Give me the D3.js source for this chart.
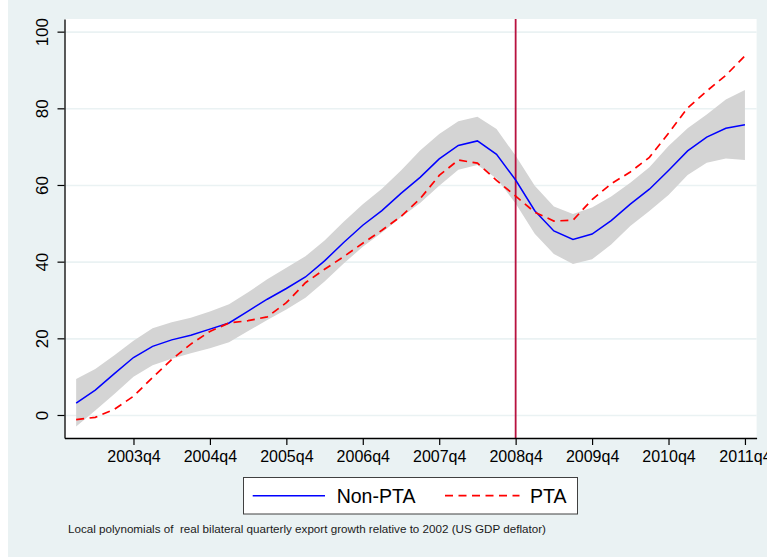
<!DOCTYPE html>
<html>
<head>
<meta charset="utf-8">
<script src="https://cdnjs.cloudflare.com/ajax/libs/d3/7.8.5/d3.min.js"></script>
<style>
	body { margin: 0; background: #ffffff; }
	svg { display: block; font-family: 'Liberation Sans', Arial, sans-serif; }
</style>
</head>
<body>
<div id="chart"></div>
<script>
const quarters = [
	'2003q1', '2003q2', '2003q3', '2003q4', '2004q1', '2004q2', '2004q3', '2004q4',
	'2005q1', '2005q2', '2005q3', '2005q4', '2006q1', '2006q2', '2006q3', '2006q4',
	'2007q1', '2007q2', '2007q3', '2007q4', '2008q1', '2008q2', '2008q3', '2008q4',
	'2009q1', '2009q2', '2009q3', '2009q4', '2010q1', '2010q2', '2010q3', '2010q4',
	'2011q1', '2011q2', '2011q3', '2011q4'
];
const nonPta = [
	3.1, 6.5, 10.8, 15.0, 17.9, 19.6, 20.8, 22.4, 24.0, 27.1, 30.2, 33.0,
	36.0, 40.2, 45.0, 49.5, 53.3, 57.8, 62.0, 66.8, 70.3, 71.5, 68.0, 61.3,
	53.3, 48.0, 45.8, 47.2, 50.7, 55.0, 58.9, 63.8, 68.9, 72.5, 74.8, 75.7
];
const pta = [
	-1.2, -0.6, 1.5, 4.9, 9.8, 14.5, 18.5, 21.8, 24.0, 24.6, 25.6, 29.3,
	34.5, 38.0, 41.3, 44.8, 48.2, 51.8, 56.4, 62.5, 66.5, 65.7, 61.2, 57.1,
	52.9, 50.6, 50.8, 56.2, 60.3, 63.4, 67.2, 73.5, 80.1, 84.5, 88.6, 93.7
];
const ciUpper = [
	9.4, 12.0, 15.6, 19.4, 22.6, 24.2, 25.4, 27.0, 28.9, 32.0, 35.4, 38.4,
	41.4, 45.5, 50.4, 55.0, 59.0, 63.8, 69.0, 73.3, 76.6, 77.8, 74.6, 67.6,
	59.8, 54.4, 52.4, 54.1, 57.0, 60.6, 64.6, 70.2, 74.8, 78.4, 82.3, 84.8
];
const ciLower = [
	-3.0, 1.2, 5.5, 10.0, 13.0, 14.7, 16.1, 17.4, 19.0, 21.9, 24.8, 27.5,
	30.6, 34.8, 39.5, 43.9, 47.6, 51.6, 55.3, 59.8, 64.0, 65.2, 61.7, 55.2,
	47.3, 42.0, 39.4, 40.6, 44.5, 49.3, 53.2, 57.4, 62.6, 65.8, 66.9, 66.5
];
const xTickLabels = ['2003q4', '2004q4', '2005q4', '2006q4', '2007q4', '2008q4', '2009q4', '2010q4', '2011q4'];
const yTickValues = [0, 20, 40, 60, 80, 100];
const markerQuarter = '2008q4';
const seriesNames = ['Non-PTA', 'PTA'];
const noteText = 'Local polynomials of  real bilateral quarterly export growth relative to 2002 (US GDP deflator)';

const width = 767;
const height = 557;
const plotLeft = 64.5;
const plotRight = 756.6;
const plotTop = 19;
const plotBottom = 438;
const bgColor = '#eaf2f3';

const svg = d3.select('#chart')
	.append('svg')
	.attr('xmlns', 'http://www.w3.org/2000/svg')
	.attr('width', width)
	.attr('height', height);

// graph region + plot region
svg.append('rect')
	.attr('x', 8).attr('y', 0)
	.attr('width', width - 8).attr('height', height)
	.style('fill', bgColor);
svg.append('rect')
	.attr('x', plotLeft).attr('y', plotTop)
	.attr('width', plotRight - plotLeft).attr('height', plotBottom - plotTop)
	.style('fill', '#ffffff');

const xScaleFn = d3.scalePoint().domain(quarters).range([plotLeft, plotRight]).padding(0.61);
const yScaleFn = d3.scaleLinear().domain([-6, 103.3]).range([plotBottom, plotTop]);

// horizontal grid
const yAxisGrid = d3.axisLeft(yScaleFn)
	.tickValues(yTickValues)
	.tickSize(-(plotRight - plotLeft))
	.tickSizeOuter(0)
	.tickFormat((val) => '');
const gridSel = svg.append('g')
	.attr('transform', 'translate(' + plotLeft + ',0)')
	.call(yAxisGrid);
gridSel.select('.domain').remove();
gridSel.selectAll('.tick line')
	.style('stroke', bgColor)
	.style('stroke-width', 1.6);

const rows = quarters.map((q, i) => ({ q: q, nonPta: nonPta[i], pta: pta[i], hi: ciUpper[i], lo: ciLower[i] }));

// confidence band
const band = d3.area()
	.x((d) => xScaleFn(d.q))
	.y0((d) => yScaleFn(d.lo))
	.y1((d) => yScaleFn(d.hi));
svg.append('path')
	.datum(rows)
	.attr('d', band)
	.style('fill', '#d4d4d4')
	.style('stroke', 'none');

// marker line at 2008q4
svg.append('line')
	.attr('x1', xScaleFn(markerQuarter)).attr('x2', xScaleFn(markerQuarter))
	.attr('y1', plotTop).attr('y2', plotBottom)
	.style('stroke', '#b8123f')
	.style('stroke-width', 1.8);

const nonPtaLine = d3.line()
	.x((d) => xScaleFn(d.q))
	.y((d) => yScaleFn(d.nonPta));
const ptaLine = d3.line()
	.x((d) => xScaleFn(d.q))
	.y((d) => yScaleFn(d.pta));

svg.append('path')
	.datum(rows)
	.attr('d', nonPtaLine)
	.style('fill', 'none')
	.style('stroke', '#0000ff')
	.style('stroke-width', 1.5);
svg.append('path')
	.datum(rows)
	.attr('d', ptaLine)
	.style('fill', 'none')
	.style('stroke', '#ff0000')
	.style('stroke-width', 1.7)
	.style('stroke-dasharray', '8,5.5');

// axes
const xAxis = d3.axisBottom(xScaleFn)
	.tickValues(xTickLabels)
	.tickSize(7)
	.tickSizeOuter(0)
	.tickPadding(6);
const xAxisSelection = svg.append('g')
	.attr('transform', 'translate(0,' + plotBottom + ')')
	.call(xAxis);

const yAxis = d3.axisLeft(yScaleFn)
	.tickValues(yTickValues)
	.tickSize(7)
	.tickSizeOuter(0);
const yAxisSelection = svg.append('g')
	.attr('transform', 'translate(' + plotLeft + ',0)')
	.call(yAxis);

[xAxisSelection, yAxisSelection].forEach((sel) => {
	sel.select('.domain').style('stroke', '#000000').style('stroke-width', 1.3);
	sel.selectAll('.tick line').style('stroke', '#000000').style('stroke-width', 1.2);
	sel.selectAll('.tick text')
		.style('font-family', "'Liberation Sans', Arial, sans-serif")
		.style('fill', '#000000');
});
xAxisSelection.selectAll('.tick text').style('font-size', '16px');
yAxisSelection.selectAll('.tick text')
	.style('font-size', '17px')
	.attr('x', 0)
	.attr('y', -17)
	.attr('dy', 0)
	.attr('text-anchor', 'middle')
	.attr('transform', 'rotate(-90)');

// legend
const legend = svg.append('g');
legend.append('rect')
	.attr('x', 243.5).attr('y', 477.5)
	.attr('width', 334).attr('height', 36.5)
	.style('fill', '#ffffff')
	.style('stroke', '#404040')
	.style('stroke-width', 1);
legend.append('line')
	.attr('x1', 252.7).attr('x2', 325).attr('y1', 495.7).attr('y2', 495.7)
	.style('stroke', '#0000ff').style('stroke-width', 1.5);
legend.append('line')
	.attr('x1', 445).attr('x2', 519.5).attr('y1', 495.7).attr('y2', 495.7)
	.style('stroke', '#ff0000').style('stroke-width', 1.7)
	.style('stroke-dasharray', '8,5.5');
legend.append('text')
	.attr('x', 336.7).attr('y', 503.3)
	.style('font-size', '19.5px')
	.style('fill', '#000000')
	.text(seriesNames[0]);
legend.append('text')
	.attr('x', 530).attr('y', 503.3)
	.style('font-size', '19.5px')
	.style('fill', '#000000')
	.text(seriesNames[1]);

// note
svg.append('text')
	.attr('x', 68).attr('y', 532.7)
	.style('font-size', '11.65px')
	.style('fill', '#1a1a1a')
	.style('white-space', 'pre')
	.text(noteText);
</script>
</body>
</html>
